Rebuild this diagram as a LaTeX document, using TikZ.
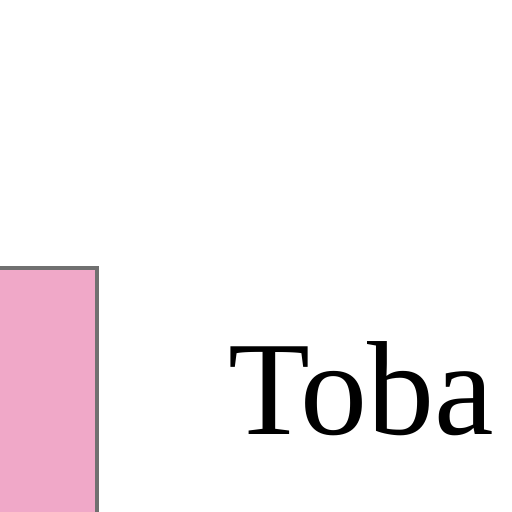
\documentclass[tikz,border=0pt]{standalone}
\usepackage{fontspec}
\setmainfont{Liberation Serif}
\definecolor{boxpink}{HTML}{F0A8C8}
\definecolor{boxedge}{HTML}{707070}
\begin{document}
\begin{tikzpicture}[x=1pt,y=1pt,
  pinkbox/.style={fill=boxpink,draw=boxedge,line width=4pt},
  label/.style={inner sep=0pt,anchor=base west,font=\fontsize{134}{140}\selectfont}]
\useasboundingbox (0,0) rectangle (512,512);
\fill[white] (0,0) rectangle (512,512);
\begin{scope}
\clip (0,0) rectangle (512,512);
\node[pinkbox,draw,minimum width=150pt,minimum height=260pt,inner sep=0pt,anchor=north east] (box) at (99,246) {};
\end{scope}
\node[label] (toba) at (228,77) {Toba};
\end{tikzpicture}
\end{document}
